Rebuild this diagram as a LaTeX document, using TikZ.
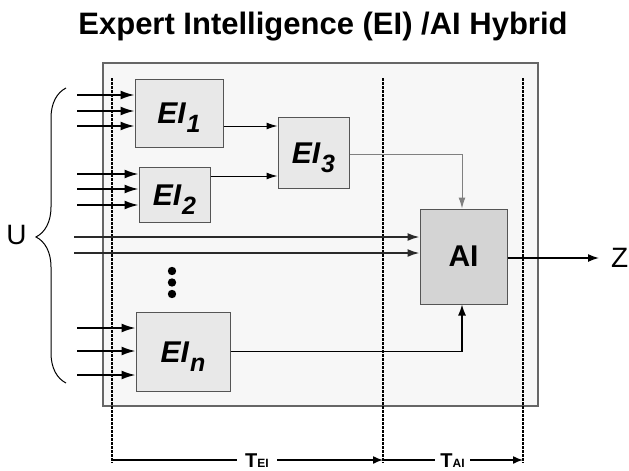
\documentclass[tikz,border=0pt]{standalone}
\usepackage{fontspec}
\usepackage{graphicx}
\setmainfont{Liberation Sans}
\usetikzlibrary{arrows.meta,decorations.pathreplacing,calc}
\definecolor{outerfill}{HTML}{F7F7F7}
\definecolor{eifill}{HTML}{E8E8E8}
\definecolor{aifill}{HTML}{D4D4D4}
\definecolor{boxline}{HTML}{555555}
\definecolor{darkline}{HTML}{2A2A2A}
\newcommand{\eilab}[1]{EI\kern1pt\raisebox{-9pt}{\fontsize{25}{25}\selectfont #1}}
\begin{document}
\begin{tikzpicture}[x=1pt,y=-1pt,
  eibox/.style={draw=boxline,fill=eifill,line width=1pt,inner sep=0pt,
    font=\fontsize{30}{30}\selectfont\bfseries\itshape,text height=21pt,text depth=0pt},
  aibox/.style={draw=boxline,fill=aifill,line width=1pt,inner sep=0pt,
    font=\fontsize{30}{30}\selectfont\bfseries},
  inarrow/.style={line width=1.8pt,-{Latex[length=14pt,width=9pt]}},
  midarrow/.style={line width=1pt,-{Latex[length=11pt,width=7pt]}},
  longarrow/.style={draw=darkline,line width=1.8pt,-{Latex[length=12pt,width=8pt]}},
  dashline/.style={line width=1.3pt,dash pattern=on 2.5pt off 1.5pt},
  dimarrow/.style={line width=1.5pt,-{Latex[length=10pt,width=8pt]}},
  dimlabel/.style={fill=white,inner sep=0pt,minimum width=40pt,minimum height=14pt}
]
\useasboundingbox (0,0) rectangle (629,471);

% title
\node[anchor=base,font=\fontsize{31}{31}\selectfont\bfseries] (title) at (323,34) {Expert Intelligence (EI) /AI Hybrid};

% outer box
\draw[draw=black!60,fill=outerfill,line width=1.2pt] (103,63) rectangle (538,406);

% dashed time lines
\coordinate (d1t) at (112,78); \coordinate (d1b) at (112,463);
\coordinate (d2t) at (383,78); \coordinate (d2b) at (383,463);
\coordinate (d3t) at (523,78); \coordinate (d3b) at (523,463);
\draw[dashline] (d1t) -- (d1b);
\draw[dashline] (d2t) -- (d2b);
\draw[dashline] (d3t) -- (d3b);

% boxes
\node[eibox,minimum width=88pt,minimum height=68pt] (EI1) at (179,113) {\eilab{1}};
\node[eibox,minimum width=71pt,minimum height=55pt] (EI2) at (174.5,194.5) {\eilab{2}};
\node[eibox,minimum width=71pt,minimum height=71pt] (EI3) at (313.5,152.5) {\eilab{3}};
\node[eibox,minimum width=94pt,minimum height=79pt] (EIn) at (183,351.5) {\eilab{n}};
\node[aibox,minimum width=87pt,minimum height=95pt] (AI) at (463.5,256.5) {AI};

% input start points
\coordinate (a1) at (77,95);  \coordinate (a2) at (77,111); \coordinate (a3) at (77,126);
\coordinate (b1) at (77,174); \coordinate (b2) at (77,189); \coordinate (b3) at (77,205);
\coordinate (c1) at (74,237); \coordinate (c2) at (74,253);
\coordinate (n1) at (77,328); \coordinate (n2) at (77,351); \coordinate (n3) at (77,375);

\draw[inarrow] (a1) -- (a1 -| EI1.west);
\draw[inarrow] (a2) -- (a2 -| EI1.west);
\draw[inarrow] (a3) -- (a3 -| EI1.west);
\draw[inarrow] (b1) -- (b1 -| EI2.west);
\draw[inarrow] (b2) -- (b2 -| EI2.west);
\draw[inarrow] (b3) -- (b3 -| EI2.west);
\draw[longarrow] (c1) -- (c1 -| AI.west);
\draw[longarrow] (c2) -- (c2 -| AI.west);
\draw[inarrow] (n1) -- (n1 -| EIn.west);
\draw[inarrow] (n2) -- (n2 -| EIn.west);
\draw[inarrow] (n3) -- (n3 -| EIn.west);

% internal connections
\coordinate (e1) at (223,126);
\coordinate (e2) at (210,176);
\coordinate (e3) at (349,154);
\draw[midarrow] (EI1.east |- e1) -- (EI3.west |- e1);
\draw[midarrow] (EI2.east |- e2) -- (EI3.west |- e2);
\draw[midarrow,draw=black!50] (EI3.east |- e3) -| ($(AI.north)+(-1.5,0)$);
\draw[line width=1.5pt,-{Latex[length=11pt,width=8pt]}] (EIn.east) -| ($(AI.south)+(-1.5,0)$);

% output
\node[font=\fontsize{28}{28}\selectfont,anchor=west,inner sep=0pt] (Z) at (611,258) {Z};
\draw[line width=1.5pt,-{Latex[length=11pt,width=8pt]}] (AI.east |- Z.west) -- ($(Z.west)+(-12,0)$);

% U and brace
\node[font=\fontsize{28}{28}\selectfont,inner sep=0pt] (U) at (16.5,235) {U};
\coordinate (brb) at (66,383);
\coordinate (brt) at (66,88);
\draw[line width=1pt,decorate,decoration={brace,amplitude=30pt,aspect=0.495}] (brb) -- (brt);

% dots
\fill (172,271) circle (4.2);
\fill (172,282.5) circle (4.2);
\fill (172,294) circle (4.2);

% time labels
\node[dimlabel] (TEI) at (257,461) {\fontsize{20}{20}\selectfont\bfseries T\fontsize{12}{12}\selectfont EI};
\node[dimlabel,minimum width=35pt] (TAI) at (452.5,461) {\fontsize{20}{20}\selectfont\bfseries T\fontsize{12}{12}\selectfont AI};
\coordinate (t1) at (112,460); \coordinate (t2) at (383,460); \coordinate (t3) at (523,460);
\draw[line width=1.5pt] (t1) -- (t1 -| TEI.west);
\draw[dimarrow] (t1 -| TEI.east) -- (t2);
\draw[line width=1.5pt] (t2) -- (t2 -| TAI.west);
\draw[dimarrow] (t2 -| TAI.east) -- (t3);
\end{tikzpicture}
\end{document}
